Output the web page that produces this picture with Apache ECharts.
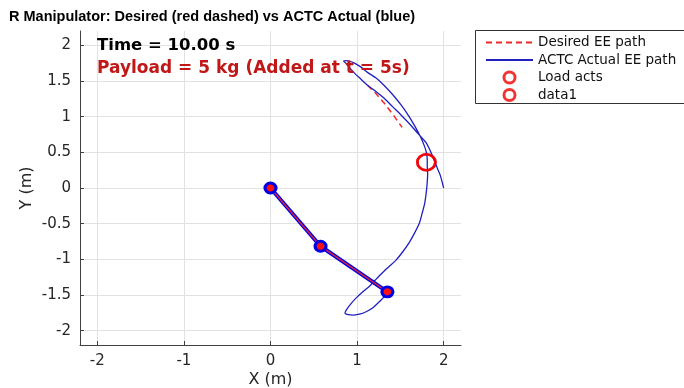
<!DOCTYPE html>
<html>
<head>
<meta charset="utf-8">
<script src="https://cdn.jsdelivr.net/npm/echarts@6/dist/echarts.min.js"></script>
<style>html,body{margin:0;padding:0;background:#fff}#c{width:684px;height:388px}</style>
</head>
<body>
<div id="c"></div>
<script>
// ---- data ----
const xTicks = [-2, -1, 0, 1, 2];
const yTicks = [-2, -1.5, -1, -0.5, 0, 0.5, 1, 1.5, 2];
const desiredX = [1.12, 1.22, 1.32, 1.42, 1.52];
const desiredY = [1.44, 1.32, 1.18, 1.02, 0.85];
const actualX = [2.0, 1.96, 1.926, 1.868, 1.80, 1.72, 1.62, 1.51, 1.41, 1.31, 1.21, 1.12, 1.04, 0.97, 0.91, 0.87, 0.845,
  0.88, 0.97, 1.05, 1.12, 1.22, 1.31, 1.41, 1.51, 1.59, 1.66, 1.71, 1.75, 1.78, 1.80, 1.81, 1.81, 1.815, 1.81, 1.80, 1.78, 1.75, 1.72, 1.66, 1.60, 1.53, 1.45, 1.37, 1.29, 1.21, 1.14, 1.06, 0.99, 0.93, 0.88, 0.86, 0.90, 0.96, 1.04, 1.11, 1.19, 1.26, 1.31, 1.35];
const actualY = [0.0, 0.18, 0.28, 0.46, 0.63, 0.74, 0.88, 1.02, 1.14, 1.26, 1.36, 1.44, 1.53, 1.61, 1.69, 1.75, 1.78,
  1.785, 1.75, 1.69, 1.62, 1.54, 1.44, 1.31, 1.16, 1.02, 0.88, 0.77, 0.67, 0.58, 0.50, 0.40, 0.32, 0.20, 0.08, -0.05, -0.22, -0.36, -0.49, -0.64, -0.77, -0.89, -1.01, -1.10, -1.19, -1.29, -1.38, -1.46, -1.54, -1.62, -1.70, -1.75, -1.775, -1.78, -1.765, -1.73, -1.67, -1.59, -1.53, -1.46];
const armX = [0, 0.578, 1.35];
const armY = [0, -0.816, -1.455];
const loadX = [1.80];
const loadY = [0.36];
const data1X = [1.80];
const data1Y = [0.36];
const titleText = 'R Manipulator: Desired (red dashed) vs ACTC Actual (blue)';
const timeText = 'Time = 10.00 s';
const payloadText = 'Payload = 5 kg (Added at t = 5s)';

const zip = (a, b) => a.map((v, i) => [v, b[i]]);
const chart = echarts.init(document.getElementById('c'), null, {renderer: 'canvas'});
const axisCommon = {
  type: 'value', min: -2.2, max: 2.2,
  axisLine: {show: true, onZero: false, lineStyle: {color: '#404040', width: 1}},
  axisTick: {show: true, inside: true, length: 4, lineStyle: {color: '#404040'}},
  splitLine: {show: true, lineStyle: {color: '#e2e2e2', width: 1}},
  nameLocation: 'middle',
  nameMoveOverlap: false,
  nameTextStyle: {fontFamily: 'DejaVu Sans', fontSize: 16, color: '#262626'}
};
const hiddenMark = {color: 'rgba(0,0,0,0)', borderWidth: 0, borderColor: 'rgba(0,0,0,0)'};
const ringIcon = 'path://M0,10 A10,10 0 1,1 20,10 A10,10 0 1,1 0,10 Z M4.2,10 A5.8,5.8 0 1,0 15.8,10 A5.8,5.8 0 1,0 4.2,10 Z';
const ringMark = {color: '#ee0000', borderWidth: 0};
chart.setOption({
  animation: false,
  backgroundColor: '#ffffff',
  title: {text: titleText, left: 9, top: 9, padding: 0,
    textStyle: {fontFamily: 'Liberation Sans', fontWeight: 'bold', fontSize: 14.5, color: '#000'}},
  grid: {left: 80, right: 223, top: 31, bottom: 43, containLabel: false, outerBoundsMode: 'none'},
  xAxis: Object.assign({}, axisCommon, {
    name: 'X (m)', nameGap: 27,
    axisTick: Object.assign({}, axisCommon.axisTick, {customValues: xTicks}),
    axisLabel: {customValues: xTicks, margin: 9, fontFamily: 'DejaVu Sans', fontSize: 15, color: '#262626'}
  }),
  yAxis: Object.assign({}, axisCommon, {
    name: 'Y (m)', nameGap: 45,
    axisTick: Object.assign({}, axisCommon.axisTick, {customValues: yTicks}),
    axisLabel: {customValues: yTicks, margin: 9, fontFamily: 'DejaVu Sans', fontSize: 15, color: '#262626'}
  }),
  legend: {
    orient: 'vertical', left: 475, top: 30,
    padding: [5.5, 10, 2, 10],
    itemWidth: 47, itemHeight: 14, itemGap: 3.5,
    backgroundColor: 'rgba(0,0,0,0)', borderWidth: 0,
    textStyle: {fontFamily: 'DejaVu Sans', fontSize: 13.5, color: '#111', padding: [0, 0, 0, 0]},
    data: [
      {name: 'Desired EE path', itemStyle: hiddenMark},
      {name: 'ACTC Actual EE path', itemStyle: hiddenMark},
      {name: 'Load acts', icon: ringIcon, itemStyle: ringMark},
      {name: 'data1', icon: ringIcon, itemStyle: ringMark}
    ]
  },
  graphic: [
    {type: 'rect', left: 475, top: 30, z: 1, silent: true,
      shape: {width: 260, height: 73},
      style: {fill: '#fff', stroke: '#333', lineWidth: 1}},
    {type: 'text', left: 97, top: 37, silent: true, z: 100,
      style: {text: timeText, font: 'bold 16.5px "DejaVu Sans"', fill: '#000'}},
    {type: 'text', left: 97, top: 60, silent: true, z: 100,
      style: {text: payloadText, font: 'bold 17px "DejaVu Sans"', fill: '#c01818'}}
  ],
  series: [
    {name: 'ACTC Actual EE path', type: 'line', data: zip(actualX, actualY), symbol: 'none', smooth: 0.25,
      lineStyle: {color: '#2020c0', width: 1.3}, itemStyle: {color: '#2020c0'}, z: 3},
    {name: 'Desired EE path', type: 'line', data: zip(desiredX, desiredY), symbol: 'none',
      lineStyle: {color: '#ee2a2a', width: 1.5, type: [6, 4]}, itemStyle: {color: '#ee2a2a'}, z: 2},
    {name: 'armActual', type: 'line', data: zip(armX, armY), symbol: 'none',
      lineStyle: {color: '#0000e6', width: 4}, z: 4},
    {name: 'armDesired', type: 'line', data: zip(armX, armY), symbol: 'circle', symbolSize: [11, 10],
      itemStyle: {color: '#ff1010', borderColor: '#0000e6', borderWidth: 3},
      lineStyle: {color: '#d02040', width: 1.5}, z: 5},
    {name: 'Load acts', type: 'scatter', data: zip(loadX, loadY), symbol: 'circle', symbolSize: [18, 16],
      itemStyle: {color: 'rgba(0,0,0,0)', borderColor: '#ee0000', borderWidth: 2.6}, z: 6},
    {name: 'data1', type: 'scatter', data: zip(data1X, data1Y), symbol: 'circle', symbolSize: [18, 16],
      itemStyle: {color: 'rgba(0,0,0,0)', borderColor: '#ee0000', borderWidth: 2.6}, z: 6}
  ]
});
</script>
</body>
</html>
